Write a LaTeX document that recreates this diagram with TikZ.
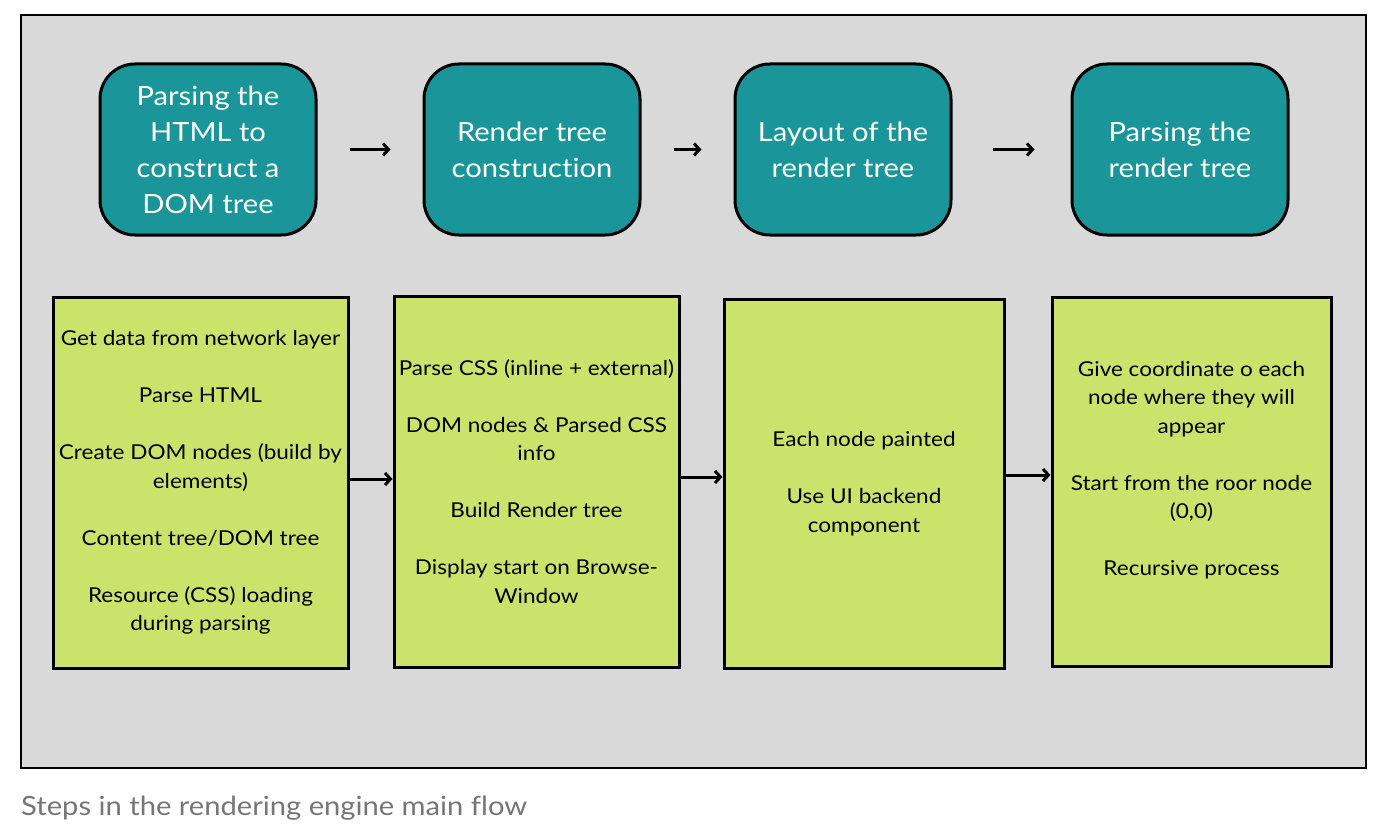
\documentclass[tikz,border=0pt]{standalone}
\usepackage{fontspec}
\setmainfont{Lato}[FakeStretch=1.1, Ligatures=NoCommon]
\usetikzlibrary{arrows.meta}
\definecolor{bgc}{HTML}{D9D9D9}
\definecolor{tealc}{HTML}{1A969A}
\definecolor{limec}{HTML}{CCE36B}
\definecolor{capc}{HTML}{767676}
\tikzset{
  topbox/.style={draw=black, line width=3pt, fill=tealc, rounded corners=35pt,
    minimum width=216pt, minimum height=171pt, inner sep=0pt, text=white,
    align=center, font=\fontsize{26.5}{36}\selectfont},
  lowbox/.style={draw=black, line width=3pt, fill=limec,
    inner sep=0pt, text=black, align=center, font=\fontsize{20.5}{28.5}\selectfont},
  lowtext/.style={inner sep=0pt, text=black, align=center, font=\fontsize{20.5}{28.5}\selectfont},
  flow/.style={line width=3pt, -{Straight Barb[length=5.5pt,width=12pt,line width=3pt]}},
}
\begin{document}
\begin{tikzpicture}[x=1pt,y=-1pt]
\useasboundingbox (0,0) rectangle (1390,840);
\fill[white] (0,0) rectangle (1390,840);
\draw[line width=2pt, fill=bgc] (21,15) rectangle (1366,768);

\node[topbox] (t1) at (208,149.5) {Parsing the\\HTML to\\construct a\\DOM tree};
\node[topbox] (t2) at (532,149.5) {Render tree\\construction};
\node[topbox] (t3) at (843,149.5) {Layout of the\\render tree};
\node[topbox] (t4) at (1180,149.5) {Parsing the\\render tree};

\draw[flow, shorten <=32pt, shorten >=32pt] (t1) -- (t2);
\draw[flow, shorten <=32pt, shorten >=32pt] (t2) -- (t3);
\draw[flow, shorten <=40pt, shorten >=36pt] (t3) -- (t4);

\node[lowbox, minimum width=295pt, minimum height=371pt] (b1) at (200.5,482.5)
  {Get data from network layer\\[28.5pt]Parse HTML\\[28.5pt]Create DOM nodes (build by\\elements)\\[28.5pt]Content tree/DOM tree\\[28.5pt]Resource (CSS) loading\\during parsing};
\node[lowbox, minimum width=285pt, minimum height=371pt] (b2) at (536.5,481.5)
  {Parse CSS (inline + external)\\[28.5pt]DOM nodes \& Parsed CSS\\info\\[28.5pt]Build Render tree\\[28.5pt]Display start on Browse-\\Window};
\node[lowbox, minimum width=280pt, minimum height=369pt] (b3) at (864,483.5)
  {Each node painted\\[28.5pt]Use UI backend\\component};
\node[lowbox, minimum width=279pt, minimum height=369pt] (b4) at (1191.5,481.5) {};
\node[lowtext] (b4t) at (1191.5,470)
  {Give coordinate o each\\node where they will\\appear\\[28.5pt]Start from the roor node\\(0,0)\\[28.5pt]Recursive process};

\coordinate (a1) at (348,479);
\coordinate (a2) at (679,477);
\coordinate (a3) at (1004,475);
\draw[flow] (a1) -- (a1 -| b2.west);
\draw[flow] (a2) -- (a2 -| b3.west);
\draw[flow] (a3) -- (a3 -| b4.west);

\node[anchor=base west, inner sep=0pt, text=capc, font=\fontsize{26.5}{30}\selectfont] (cap) at (21,815)
  {Steps in the rendering engine main flow};
\end{tikzpicture}
\end{document}
